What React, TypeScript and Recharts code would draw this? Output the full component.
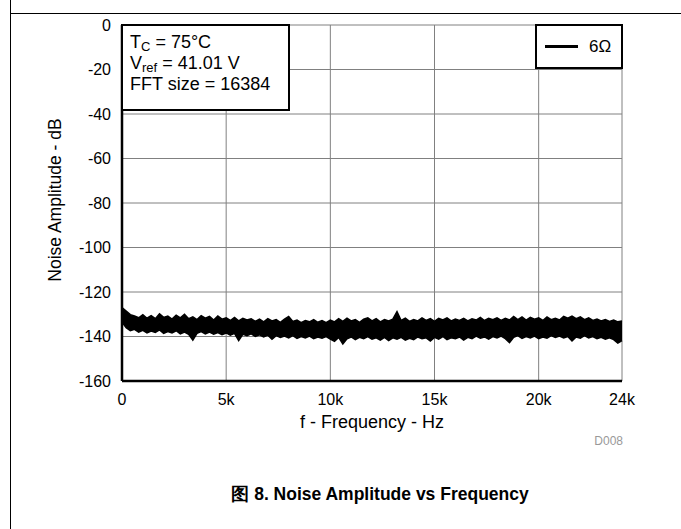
import { ComposedChart, Area, XAxis, YAxis, CartesianGrid } from "recharts";

// FFT bin spacing used for the envelope readings below
const FREQ_STEP = 200;

const xTicks = [0, 5000, 10000, 15000, 20000, 24000];
const xTickLabels = ["0", "5k", "10k", "15k", "20k", "24k"];
const yTicks = [0, -20, -40, -60, -80, -100, -120, -140, -160];

// upper edge of the noise band (dB), one value per 200 Hz
const bandHigh = [
  -127.0, -128.6, -130.2, -130.8, -131.6, -130.2, -131.8, -130.6, -132.0, -129.8,
  -131.4, -130.8, -132.2, -130.4, -131.6, -130.0, -132.0, -131.2, -132.4, -130.6,
  -131.8, -131.0, -132.6, -130.8, -132.2, -131.6, -132.8, -131.4, -133.0, -131.8,
  -132.6, -132.0, -133.2, -132.2, -133.4, -132.0, -133.0, -132.4, -133.6, -132.2,
  -131.0, -133.2, -132.6, -133.8, -132.8, -133.4, -132.4, -133.6, -132.8, -133.8,
  -132.6, -133.4, -132.0, -133.2, -131.8, -133.0, -132.4, -133.6, -132.2, -131.6,
  -133.0, -132.0, -133.4, -132.4, -133.0, -132.2, -128.8, -132.8, -131.8, -133.2,
  -132.4, -133.0, -131.6, -132.8, -132.0, -133.2, -131.8, -132.6, -131.6, -133.0,
  -132.2, -132.8, -131.8, -133.0, -132.0, -132.6, -131.4, -132.8, -131.8, -132.4,
  -131.6, -132.8, -131.8, -132.6, -131.0, -132.4, -131.2, -132.6, -131.4, -132.2,
  -131.6, -132.8, -131.2, -132.4, -131.8, -132.6, -131.0, -131.8, -130.8, -132.0,
  -131.2, -132.4, -131.6, -132.8, -132.2, -133.0, -132.4, -133.2, -132.6, -133.4,
  -133.0,
];

// lower edge of the noise band (dB)
const bandLow = [
  -133.5, -136.0, -137.4, -136.8, -138.0, -137.2, -138.4, -137.6, -138.2, -137.0,
  -138.6, -137.8, -138.4, -137.4, -138.8, -138.0, -139.0, -141.6, -138.6, -137.8,
  -138.8, -138.0, -139.0, -138.2, -139.2, -138.4, -139.4, -138.6, -141.8, -139.0,
  -139.6, -138.8, -140.0, -139.2, -140.2, -139.4, -141.2, -139.6, -140.4, -139.8,
  -140.6, -139.6, -140.8, -140.0, -140.6, -139.8, -141.0, -140.2, -140.8, -140.0,
  -141.2, -142.2, -140.4, -143.4, -141.0, -140.2, -141.4, -140.4, -141.0, -140.0,
  -141.2, -140.6, -141.6, -140.4, -141.8, -140.6, -141.2, -140.4, -141.6, -140.8,
  -141.4, -140.2, -141.0, -140.6, -142.0, -140.4, -141.2, -140.0, -141.4, -140.6,
  -141.0, -140.2, -141.6, -140.4, -141.0, -139.8, -140.8, -140.2, -141.2, -140.0,
  -140.6, -139.8, -141.0, -142.8, -140.4, -139.6, -140.8, -140.0, -140.6, -139.8,
  -141.0, -140.2, -140.8, -139.6, -140.4, -139.8, -140.6, -140.0, -142.0, -140.2,
  -140.8, -139.6, -140.6, -140.0, -141.0, -140.4, -141.2, -140.6, -141.4, -143.0,
  -141.8,
];

const data = bandHigh.map((h, i) => ({ f: i * FREQ_STEP, band: [bandLow[i], h] }));

const FONT = '"Liberation Sans", Arial, sans-serif';

export default function App() {
  return (
    <div style={{ position: "absolute", left: 0, top: 0, width: 681, height: 529, background: "#fff", fontFamily: FONT }}>
      {/* page frame */}
      <div style={{ position: "absolute", left: 10, top: 0, width: 1, height: 529, background: "#000" }} />
      <div style={{ position: "absolute", left: 10, top: 13, width: 671, height: 1, background: "#000" }} />

      <div style={{ position: "absolute", left: 0, top: 0 }}>
        <ComposedChart width={681} height={430} data={data} margin={{ top: 25, right: 59, bottom: 0, left: 0 }}>
          <CartesianGrid stroke="#808080" strokeWidth={1} />
          <XAxis
            dataKey="f"
            type="number"
            domain={[0, 24000]}
            ticks={xTicks}
            tickFormatter={(v: number) => xTickLabels[xTicks.indexOf(v)]}
            height={49}
            tickLine={false}
            tickSize={0}
            tickMargin={13}
            axisLine={{ stroke: "#000", strokeWidth: 2.5 }}
            tick={{ fill: "#000", fontSize: 16, fontFamily: FONT }}
            interval={0}
          />
          <XAxis xAxisId="top" orientation="top" dataKey="f" type="number" domain={[0, 24000]} height={0} tick={false} tickLine={false} axisLine={{ stroke: "#000", strokeWidth: 2.5 }} />
          <YAxis
            domain={[-160, 0]}
            ticks={yTicks}
            width={122}
            tickLine={false}
            tickSize={0}
            tickMargin={11}
            axisLine={{ stroke: "#000", strokeWidth: 2.5 }}
            tick={{ fill: "#000", fontSize: 16, fontFamily: FONT }}
            interval={0}
          />
          <YAxis yAxisId="right" orientation="right" domain={[-160, 0]} width={0} tick={false} tickLine={false} axisLine={{ stroke: "#000", strokeWidth: 2.5 }} />
          <Area
            dataKey="band"
            type="linear"
            stroke="#000"
            strokeWidth={1.5}
            fill="#000"
            fillOpacity={1}
            isAnimationActive={false}
            dot={false}
            activeDot={false}
          />
        </ComposedChart>
      </div>

      {/* conditions box */}
      <div
        style={{
          position: "absolute", left: 121, top: 24, width: 169, height: 87, boxSizing: "border-box",
          border: "2.5px solid #000", background: "#fff", padding: "6px 0 0 7px", fontSize: 18, lineHeight: "21px", color: "#000",
        }}
      >
        <div>T<sub style={{ fontSize: 13, lineHeight: 0, verticalAlign: -3 }}>C</sub> = 75°C</div>
        <div>V<sub style={{ fontSize: 13, lineHeight: 0, verticalAlign: -3 }}>ref</sub> = 41.01 V</div>
        <div>FFT size = 16384</div>
      </div>

      {/* legend */}
      <div
        style={{
          position: "absolute", left: 535, top: 24, width: 88, height: 45, boxSizing: "border-box",
          border: "2.5px solid #000", background: "#fff", display: "flex", alignItems: "center", paddingLeft: 8,
        }}
      >
        <div style={{ width: 33, height: 3, background: "#000" }} />
        <span style={{ marginLeft: 11, fontSize: 17, color: "#000" }}>6Ω</span>
      </div>

      {/* axis titles */}
      <div style={{ position: "absolute", left: 55, top: 200, transform: "translate(-50%, -50%) rotate(-90deg)", whiteSpace: "nowrap", fontSize: 17.5, color: "#000" }}>
        Noise Amplitude - dB
      </div>
      <div style={{ position: "absolute", left: 372, top: 422, transform: "translate(-50%, -50%)", whiteSpace: "nowrap", fontSize: 18, color: "#000" }}>
        f - Frequency - Hz
      </div>
      <div style={{ position: "absolute", right: 58, top: 434, fontSize: 12, color: "#999" }}>D008</div>

      <div style={{ position: "absolute", left: 380, top: 494, transform: "translate(-50%, -50%)", whiteSpace: "nowrap", fontSize: 17.5, fontWeight: "bold", color: "#000" }}>
        图 8. Noise Amplitude vs Frequency
      </div>
    </div>
  );
}
